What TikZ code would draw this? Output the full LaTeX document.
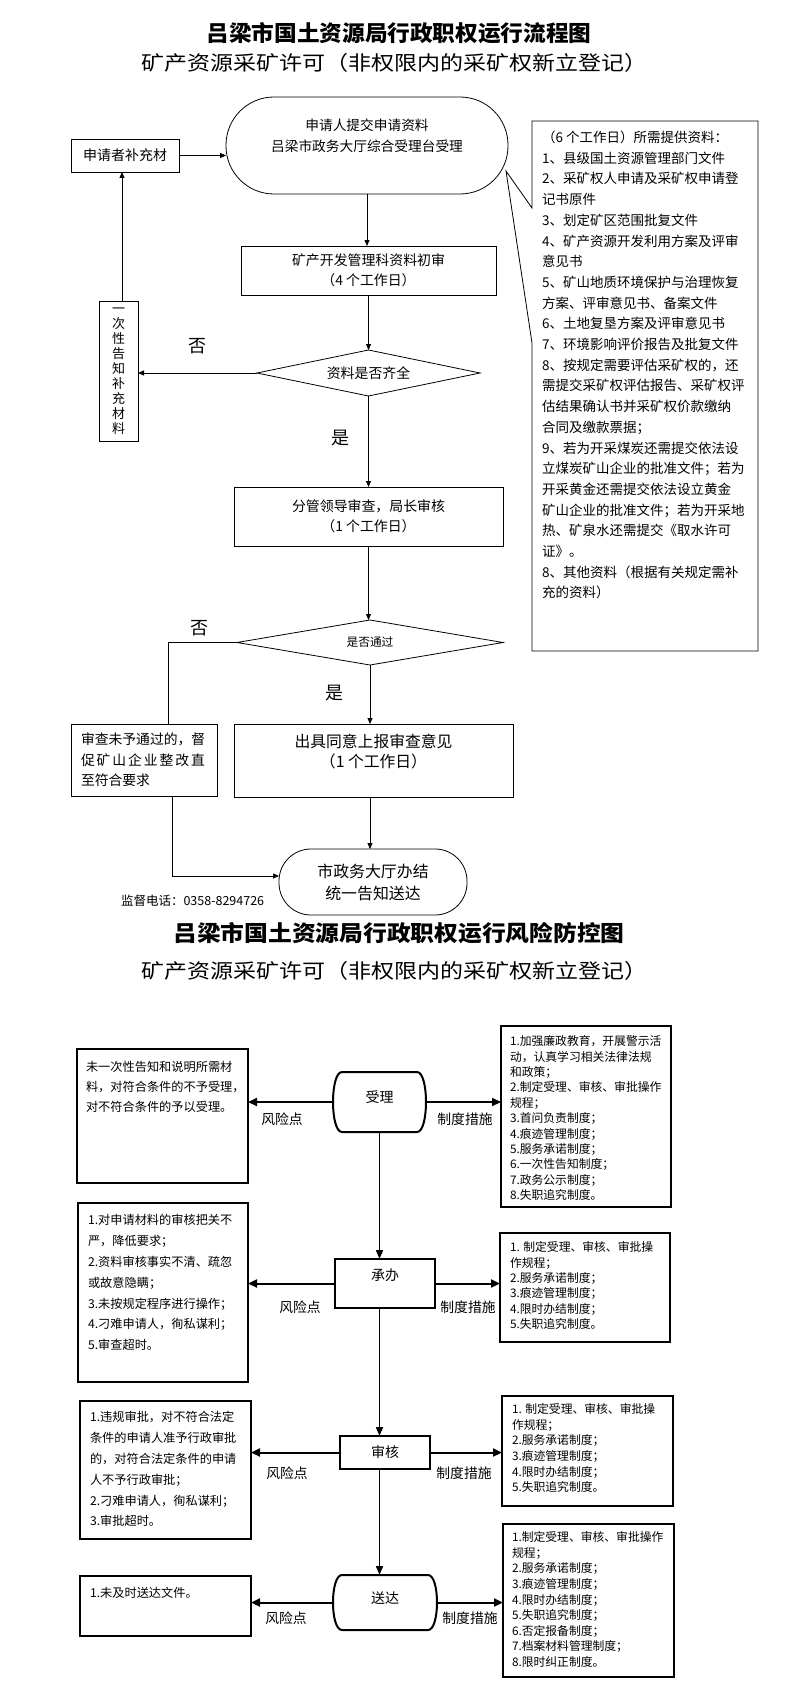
\documentclass[tikz,border=0pt]{standalone}
\usepackage{fontspec}
\setmainfont{Noto Sans CJK SC}
\usepackage{graphicx}
\usetikzlibrary{arrows.meta,shapes.geometric}
\newcommand\myfs[2]{\fontsize{#1}{#2}\selectfont}
\begin{document}
\begin{tikzpicture}[x=1pt,y=-1pt,
  tbox/.style={draw, line width=0.8pt, inner sep=0pt, outer sep=0pt},
  tarr/.style={-{Triangle[length=6pt,width=5pt]}, line width=0.8pt},
  tline/.style={line width=0.8pt},
  bbox/.style={draw, line width=2pt, inner sep=0pt, outer sep=0pt},
  barr/.style={-{Triangle[length=9pt,width=8pt]}, line width=2pt},
  varr/.style={-{Triangle[length=9pt,width=7pt]}, line width=1.6pt},
  lbl/.style={inner sep=0pt, outer sep=0pt},
  mark18/.style={lbl, font={\myfs{18}{18}}},
  riskl/.style={lbl, font={\myfs{13.8}{13.8}}},
  ltxt/.style={lbl, anchor=north west, align=left},
]
\useasboundingbox[fill=white] (0,0) rectangle (793,1699);

% ---------- titles ----------
\node[lbl] (t1) at (399,33) {\scalebox{1.03}[1]{\myfs{22}{22}\bfseries 吕梁市国土资源局行政职权运行流程图}};
\node[lbl] (s1) at (394,63) {\scalebox{1.15}[1]{\myfs{20}{20}矿产资源采矿许可（非权限内的采矿权新立登记）}};

% ---------- flow chart ----------
\node[tbox, rectangle, rounded corners=48pt, minimum width=282pt, minimum height=97pt, align=center, font={\myfs{13.7}{21}}] (app) at (367,145.5) {申请人提交申请资料\\吕梁市政务大厅综合受理台受理\\\mbox{}};
\node[tbox, minimum width=108pt, minimum height=33pt, font={\myfs{14}{14}}] (sup) at (125,155.5) {申请者补充材};
\node[tbox, minimum width=255pt, minimum height=49pt, align=center, font={\myfs{13.9}{20}}] (b1) at (368.5,270.5) {矿产开发管理科资料初审\\（4 个工作日）};
\node[tbox, diamond, aspect=4.8, minimum width=223pt, minimum height=46pt, font={\myfs{13.9}{14}}] (d1) at (368.5,373) {资料是否齐全};
\node[tbox, minimum width=39pt, minimum height=140pt, align=center, font={\myfs{13}{15}}] (ox) at (118.5,371) {一\\次\\性\\告\\知\\补\\充\\材\\料};
\node[tbox, minimum width=269pt, minimum height=59pt, align=center, font={\myfs{13.9}{20}}] (b2) at (368.5,516.5) {分管领导审查，局长审核\\（1 个工作日）};
\node[tbox, diamond, aspect=5.9, minimum width=266pt, minimum height=45pt, font={\myfs{11.7}{12}}] (d2) at (370,642.5) {是否通过};
\node[tbox, minimum width=146pt, minimum height=72pt, inner xsep=10pt, text width=126pt, align=left, font={\myfs{13.8}{20.5}}] (bf) at (144,760) {审查未予通过的，督\\\makebox[124pt][s]{促\hfil 矿\hfil 山\hfil 企\hfil 业\hfil 整\hfil 改\hfil 直}\\至符合要求};
\node[tbox, minimum width=279pt, minimum height=73pt, align=center, font={\myfs{15.8}{20}}] (b3) at (373.5,760.5) {出具同意上报审查意见\\（1 个工作日）\\\mbox{}};
\node[tbox, rectangle, rounded corners=32pt, minimum width=188pt, minimum height=66pt, align=center, font={\myfs{15.9}{22}}] (fin) at (373,882) {市政务大厅办结\\统一告知送达};

% callout box
\node[lbl, minimum width=226pt, minimum height=530pt] (cbx) at (645,386) {};
\coordinate (tip) at (506,171);
\coordinate (pa) at (532,343);
\coordinate (pb) at (532,208);
\draw[tline] (cbx.north west) -- (cbx.north east) -- (cbx.south east) -- (cbx.south west) -- (pa) -- (tip) -- (pb) -- cycle;
\node[ltxt, font={\myfs{13.5}{20.7}}] (cbt) at (542,131) {（6 个工作日）所需提供资料：\\
1、县级国土资源管理部门文件\\
2、采矿权人申请及采矿权申请登\\
记书原件\\
3、划定矿区范围批复文件\\
4、矿产资源开发利用方案及评审\\
意见书\\
5、矿山地质环境保护与治理恢复\\
方案、评审意见书、备案文件\\
6、土地复垦方案及评审意见书\\
7、环境影响评价报告及批复文件\\
8、按规定需要评估采矿权的，还\\
需提交采矿权评估报告、采矿权评\\
估结果确认书并采矿权价款缴纳\\
合同及缴款票据；\\
9、若为开采煤炭还需提交依法设\\
立煤炭矿山企业的批准文件；若为\\
开采黄金还需提交依法设立黄金\\
矿山企业的批准文件；若为开采地\\
热、矿泉水还需提交《取水许可\\
证》。\\
8、其他资料（根据有关规定需补\\
充的资料）};

% connectors
\coordinate (oxtop) at (122,301);
\draw[tarr] (oxtop) -- (oxtop |- sup.south);
\draw[tarr] (sup.east) -- (sup.east -| app.west);
\draw[tarr] (app.south) -- (app.south |- b1.north);
\draw[tarr] (b1.south) -- (d1.north);
\draw[tarr] (d1.west) -- (ox.east |- d1.west);
\draw[tarr] (d1.south) -- (b2.north);
\draw[tarr] (b2.south) -- (b2.south |- d2.north);
\coordinate (bfn) at (168,724);
\draw[tline] (d2.west) -| (bfn);
\draw[tarr] (d2.south) -- (d2.south |- b3.north);
\draw[tarr] (d2.south |- b3.south) -- (d2.south |- fin.north);
\coordinate (bfs) at (172,796);
\coordinate (finw) at (279,876);
\draw[tarr] (bfs) |- (finw);

\node[mark18] (no1) at (197,346) {否};
\node[mark18] (yes1) at (340,438) {是};
\node[mark18] (no2) at (199,628) {否};
\node[mark18] (yes2) at (334,693) {是};
\node[lbl, anchor=west, font={\myfs{12.5}{12.5}}] (tel) at (121,901) {监督电话：0358-8294726};

% ---------- risk chart ----------
\node[lbl] (t2) at (399,933) {\scalebox{1.08}[1]{\myfs{22}{22}\bfseries 吕梁市国土资源局行政职权运行风险防控图}};
\node[lbl] (s2) at (394,971) {\scalebox{1.15}[1]{\myfs{20}{20}矿产资源采矿许可（非权限内的采矿权新立登记）}};

% step shapes
\node[lbl, minimum width=93pt, minimum height=60pt] (ra) at (379.5,1102) {};
\draw[line width=2pt] ([xshift=9pt]ra.north west) -- ([xshift=-9pt]ra.north east) .. controls ([xshift=3pt]ra.north east) and ([xshift=3pt]ra.south east) .. ([xshift=-9pt]ra.south east) -- ([xshift=9pt]ra.south west) .. controls ([xshift=-3pt]ra.south west) and ([xshift=-3pt]ra.north west) .. cycle;
\node[lbl, font={\myfs{14}{14}}] (rat) at ([yshift=5pt]ra.center) {受理};

\node[bbox, minimum width=100pt, minimum height=49pt] (rb) at (385,1283.5) {};
\node[lbl, font={\myfs{14}{14}}] (rbt) at ([yshift=8.5pt]rb.center) {承办};

\node[bbox, minimum width=90pt, minimum height=33pt, font={\myfs{14}{14}}] (rc) at (385,1452.5) {审核};

\node[lbl, minimum width=104pt, minimum height=55pt] (rd) at (385,1602.5) {};
\draw[line width=2pt] ([xshift=9pt]rd.north west) -- ([xshift=-9pt]rd.north east) .. controls ([xshift=3pt]rd.north east) and ([xshift=3pt]rd.south east) .. ([xshift=-9pt]rd.south east) -- ([xshift=9pt]rd.south west) .. controls ([xshift=-3pt]rd.south west) and ([xshift=-3pt]rd.north west) .. cycle;
\node[lbl, font={\myfs{14}{14}}] (rdt) at ([yshift=4.5pt]rd.center) {送达};

% spine
\draw[varr] (ra.south) -- (ra.south |- rb.north);
\draw[varr] (ra.south |- rb.south) -- (ra.south |- rc.north);
\draw[varr] (ra.south |- rc.south) -- (ra.south |- rd.north);

% left (risk) boxes
\node[bbox, minimum width=171pt, minimum height=134pt] (lb1) at (162.5,1116) {};
\node[ltxt, font={\myfs{12.2}{20}}] (lb1t) at (86,1061.5) {未一次性告知和说明所需材\\料，对符合条件的不予受理，\\对不符合条件的予以受理。};
\node[bbox, minimum width=170pt, minimum height=179pt] (lb2) at (163,1292.5) {};
\node[ltxt, font={\myfs{12.2}{20.8}}] (lb2t) at (88,1214.5) {1.对申请材料的审核把关不\\严，降低要求；\\2.资料审核事实不清、疏忽\\或故意隐瞒；\\3.未按规定程序进行操作；\\4.刁难申请人，徇私谋利；\\5.审查超时。};
\node[bbox, minimum width=171pt, minimum height=138pt] (lb3) at (165.5,1470) {};
\node[ltxt, font={\myfs{12.2}{20.8}}] (lb3t) at (90,1411.5) {1.违规审批，对不符合法定\\条件的申请人准予行政审批\\的，对符合法定条件的申请\\人不予行政审批；\\2.刁难申请人，徇私谋利；\\3.审批超时。};
\node[bbox, minimum width=171pt, minimum height=60pt] (lb4) at (165.5,1606) {};
\node[ltxt, font={\myfs{12.2}{20.8}}] (lb4t) at (90,1587.5) {1.未及时送达文件。};

% right (measure) boxes
\node[bbox, minimum width=170pt, minimum height=181pt] (rb1) at (586,1116.5) {};
\node[ltxt, font={\myfs{11.8}{15.4}}] (rb1t) at (510,1035.7) {1.加强廉政教育，开展警示活\\动，认真学习相关法律法规\\和政策；\\2.制定受理、审核、审批操作\\规程；\\3.首问负责制度；\\4.痕迹管理制度；\\5.服务承诺制度；\\6.一次性告知制度；\\7.政务公示制度；\\8.失职追究制度。};
\node[bbox, minimum width=170pt, minimum height=109pt] (rb2) at (585,1287.5) {};
\node[ltxt, font={\myfs{11.8}{15.4}}] (rb2t) at (510,1241.7) {1. 制定受理、审核、审批操\\作规程；\\2.服务承诺制度；\\3.痕迹管理制度；\\4.限时办结制度；\\5.失职追究制度。};
\node[bbox, minimum width=171pt, minimum height=110pt] (rb3) at (587.5,1451) {};
\node[ltxt, font={\myfs{11.8}{15.6}}] (rb3t) at (512,1403.7) {1. 制定受理、审核、审批操\\作规程；\\2.服务承诺制度；\\3.痕迹管理制度；\\4.限时办结制度；\\5.失职追究制度。};
\node[bbox, minimum width=171pt, minimum height=153pt] (rb4) at (588.5,1600.5) {};
\node[ltxt, font={\myfs{11.8}{15.6}}] (rb4t) at (512,1531.7) {1.制定受理、审核、审批操作\\规程；\\2.服务承诺制度；\\3.痕迹管理制度；\\4.限时办结制度；\\5.失职追究制度；\\6.否定报备制度；\\7.档案材料管理制度；\\8.限时纠正制度。};

% horizontal arrows
\draw[barr] (ra.west) -- (ra.west -| lb1.east);
\draw[barr] (ra.east) -- (ra.east -| rb1.west);
\draw[barr] (rb.west) -- (rb.west -| lb2.east);
\draw[barr] (rb.east) -- (rb.east -| rb2.west);
\draw[barr] (rc.west) -- (rc.west -| lb3.east);
\draw[barr] (rc.east) -- (rc.east -| rb3.west);
\draw[barr] (rd.west) -- (rd.west -| lb4.east);
\draw[barr] (rd.east) -- (rd.east -| rb4.west);

% labels
\node[riskl] (r1l) at (282,1119) {风险点};
\node[riskl] (r1r) at (465,1119) {制度措施};
\node[riskl] (r2l) at (300,1307) {风险点};
\node[riskl] (r2r) at (468,1307) {制度措施};
\node[riskl] (r3l) at (287,1473) {风险点};
\node[riskl] (r3r) at (464,1473) {制度措施};
\node[riskl] (r4l) at (286,1618) {风险点};
\node[riskl] (r4r) at (470,1618) {制度措施};
\end{tikzpicture}
\end{document}
